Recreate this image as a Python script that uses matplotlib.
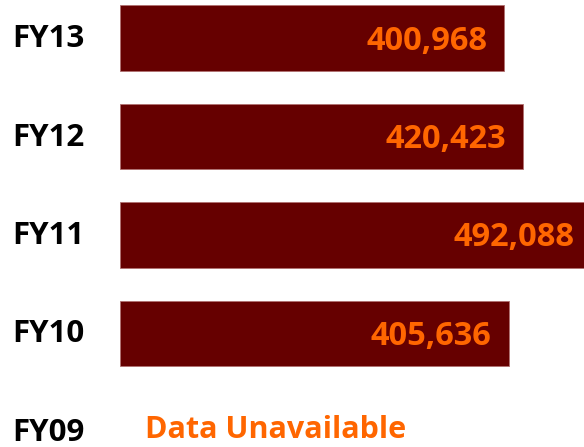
import matplotlib
matplotlib.use("Agg")
import matplotlib.pyplot as plt
import matplotlib.transforms as mtransforms

# fiscal years, top to bottom
years = ["FY13", "FY12", "FY11", "FY10", "FY09"]
values = [400968, 420423, 492088, 405636, None]
missing_text = "Data Unavailable"

bar_color = "#660000"
text_color = "#FF6600"

plt.rcParams['font.family'] = ['Open Sans', 'DejaVu Sans']

fig = plt.figure(figsize=(5.84, 4.47), dpi=100)
ax = fig.add_axes([120 / 584, 0, 1 - 120 / 584, 1])

pos = list(range(len(years)))
for y, v in zip(pos, values):
    if v is None:
        ax.annotate(missing_text, xy=(0, y), xytext=(25, 2), textcoords='offset pixels',
                    ha='left', va='center', fontsize=22, fontweight='bold', color=text_color)
        continue
    ax.barh(y, v, height=0.67, color=bar_color, edgecolor='#b07070', linewidth=0.6)
    ax.annotate(f"{v:,}", xy=(v, y), xytext=(-17, -3), textcoords='offset pixels',
                ha='right', va='center', fontsize=23.5, fontweight='bold', color=text_color,
                annotation_clip=False)

# year labels sit to the left of the axes
trans = mtransforms.blended_transform_factory(fig.transFigure, ax.transData)
for y, name in zip(pos, years):
    ax.annotate(name, xy=(12 / 584, y), xycoords=trans, xytext=(0, -1),
                textcoords='offset pixels', ha='left', va='center',
                fontsize=22.5, fontweight='bold', color='black')

ax.set_xlim(0, 464 / 0.000958)
ax.set_ylim((447 - 38) / 98.5, -38 / 98.5)
ax.axis('off')

fig.savefig("out.png", dpi=100)
